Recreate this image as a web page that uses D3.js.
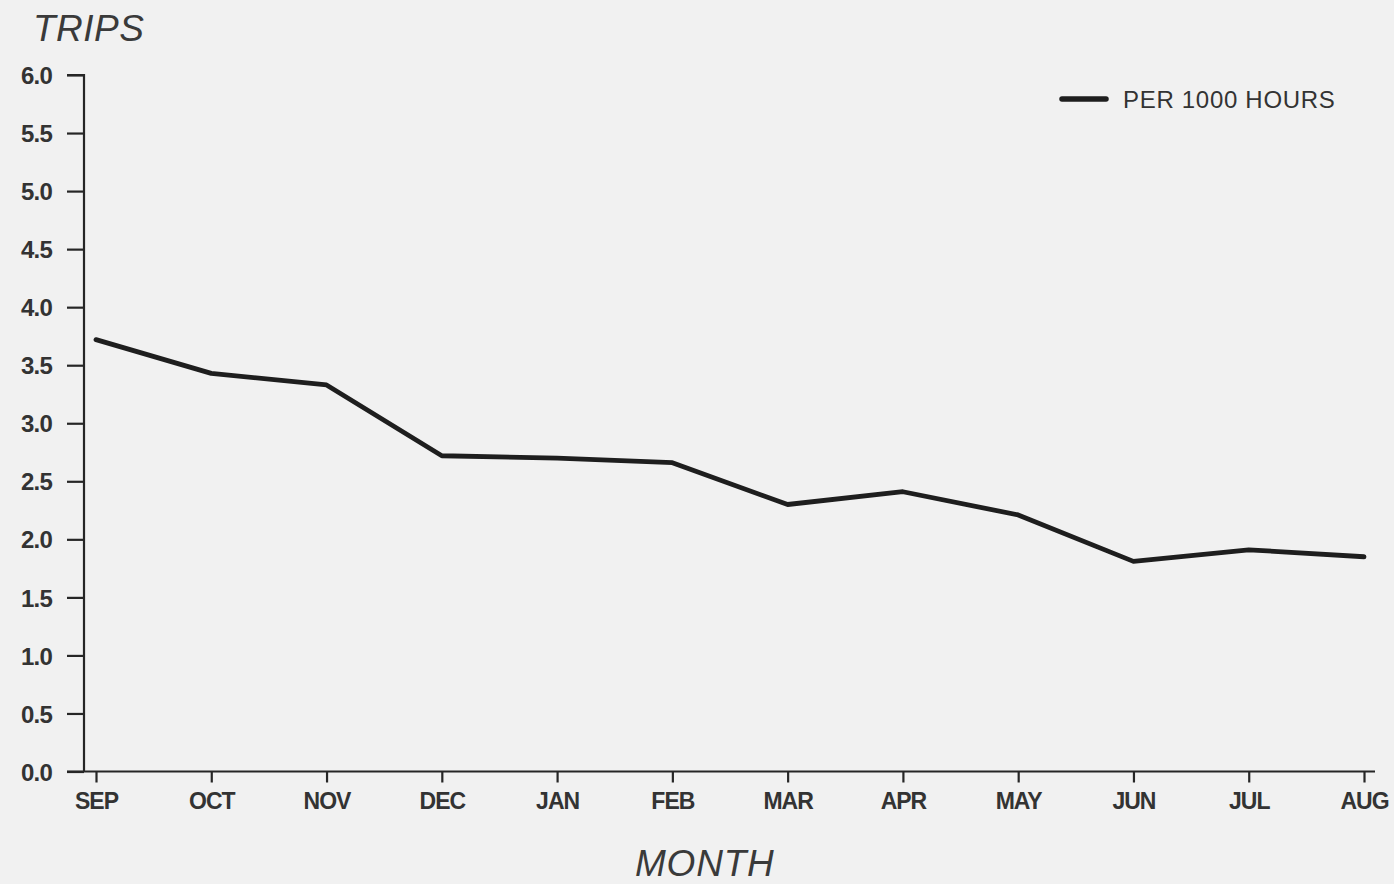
<!DOCTYPE html>
<html><head><meta charset="utf-8">
<script src="https://cdn.jsdelivr.net/npm/d3@7"></script>
<style>
html,body{margin:0;padding:0;background:#f1f1f1;}
svg{display:block;}
text{font-family:"Liberation Sans",Arial,sans-serif;fill:#2b2b2b;}
</style></head>
<body>
<svg id="chart" width="1394" height="884"></svg>
<script>
const months = ["SEP","OCT","NOV","DEC","JAN","FEB","MAR","APR","MAY","JUN","JUL","AUG"];
const tripsPer1000 = [3.72,3.43,3.33,2.72,2.70,2.66,2.30,2.41,2.21,1.81,1.91,1.85];
const yTicks = [0,0.5,1,1.5,2,2.5,3,3.5,4,4.5,5,5.5,6];
const yTickLabels = ["0.0","0.5","1.0","1.5","2.0","2.5","3.0","3.5","4.0","4.5","5.0","5.5","6.0"];
const seriesName = "PER 1000 HOURS";

const svg = d3.select("#chart");
const axisX = 84, axisY = 771.5;
const x = d3.scalePoint().domain(months).range([96,1364]);
const y = d3.scaleLinear().domain([0,6]).range([axisY,75]);
const ink = "#262626";

// y axis
const ya = svg.append("g").attr("transform",`translate(${axisX},0)`)
  .call(d3.axisLeft(y).tickValues(yTicks).tickSize(17).tickPadding(15)
    .tickFormat((d,i)=>yTickLabels[i]));
ya.select(".domain").attr("stroke",ink).attr("stroke-width",2.2).attr("d",`M-17,${y(6)}H0V${axisY}`);
ya.selectAll(".tick line").attr("stroke",ink).attr("stroke-width",2.2);
ya.selectAll(".tick text").attr("font-size",24).attr("letter-spacing",-0.8).attr("font-weight","bold")
  .style("fill","#333").attr("dy","0.36em");

// x axis
const xa = svg.append("g").attr("transform",`translate(0,${axisY})`)
  .call(d3.axisBottom(x).tickSize(11).tickPadding(10));
xa.select(".domain").attr("stroke",ink).attr("stroke-width",2.2).attr("d",`M67,0H1375`);
xa.selectAll(".tick line").attr("stroke",ink).attr("stroke-width",2.2);
xa.selectAll(".tick text").attr("font-size",23).attr("letter-spacing",-1).attr("font-weight","bold")
  .style("fill","#333");

// line
svg.append("path").datum(tripsPer1000)
  .attr("fill","none").attr("stroke","#1e1e1e").attr("stroke-width",4.8)
  .attr("stroke-linejoin","round").attr("stroke-linecap","round")
  .attr("d", d3.line().x((d,i)=>x(months[i])).y(d=>y(d)));

// legend
svg.append("line").attr("x1",1062).attr("x2",1106).attr("y1",99).attr("y2",99)
  .attr("stroke","#1e1e1e").attr("stroke-width",5.5).attr("stroke-linecap","round");
svg.append("text").attr("x",1123).attr("y",108).attr("font-size",24).attr("letter-spacing",0.7)
  .style("fill","#333").text(seriesName);

// titles
svg.append("text").attr("x",33).attr("y",41).attr("font-size",37).attr("font-style","italic")
  .attr("letter-spacing",0.5).style("fill","#3a3a3a").text("TRIPS");
svg.append("text").attr("x",635).attr("y",876).attr("font-size",37).attr("font-style","italic")
  .attr("letter-spacing",0.8).style("fill","#3a3a3a").text("MONTH");
</script>
</body></html>
